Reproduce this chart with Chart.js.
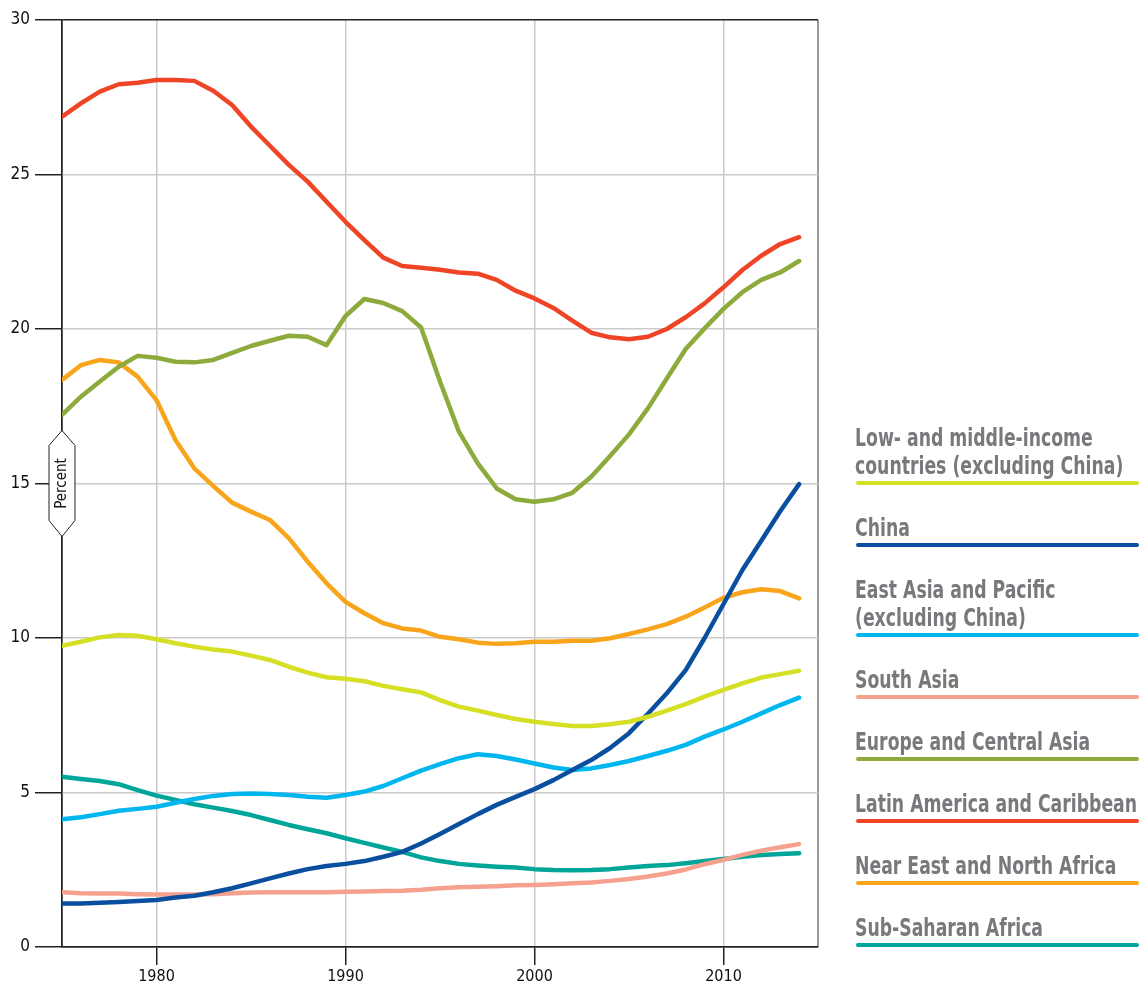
<!DOCTYPE html>
<html>
<head>
<meta charset="utf-8">
<script src="https://cdn.jsdelivr.net/npm/chart.js@4.4.1/dist/chart.umd.min.js"></script>
<style>
  html, body { margin: 0; padding: 0; background: #fff; }
  #wrap { position: relative; width: 1143px; height: 990px; }
  .leg-text {
    position: absolute; left: 855px;
    font-family: 'DejaVu Sans Condensed', 'DejaVu Sans', sans-serif;
    font-weight: bold; font-size: 24px; line-height: 27.5px; color: #77797c;
    white-space: pre; transform: scaleX(0.8); transform-origin: left bottom;
  }
  .leg-bar { position: absolute; left: 856px; width: 283px; height: 4px; border-radius: 2px; }
</style>
</head>
<body>
<div id="wrap">
  <canvas id="chart"></canvas>
</div>
<script>
const years = [1975, 1976, 1977, 1978, 1979, 1980, 1981, 1982, 1983, 1984,
  1985, 1986, 1987, 1988, 1989, 1990, 1991, 1992, 1993, 1994,
  1995, 1996, 1997, 1998, 1999, 2000, 2001, 2002, 2003, 2004,
  2005, 2006, 2007, 2008, 2009, 2010, 2011, 2012, 2013, 2014]

const lowMiddle = [9.75, 9.88, 10.02, 10.10, 10.07, 9.96, 9.83, 9.72, 9.63, 9.56,
  9.43, 9.29, 9.07, 8.88, 8.73, 8.68, 8.60, 8.45, 8.34, 8.24,
  7.99, 7.78, 7.65, 7.51, 7.38, 7.29, 7.22, 7.15, 7.15, 7.21,
  7.29, 7.45, 7.65, 7.86, 8.10, 8.32, 8.53, 8.72, 8.83, 8.94]
const china = [1.41, 1.41, 1.43, 1.46, 1.49, 1.52, 1.60, 1.66, 1.77, 1.90,
  2.06, 2.22, 2.38, 2.52, 2.62, 2.69, 2.78, 2.92, 3.08, 3.35,
  3.66, 3.98, 4.30, 4.60, 4.86, 5.11, 5.40, 5.73, 6.05, 6.44,
  6.92, 7.55, 8.21, 8.96, 10.0, 11.1, 12.2, 13.15, 14.1, 14.98]
const eastAsia = [4.13, 4.20, 4.30, 4.41, 4.47, 4.54, 4.67, 4.79, 4.89, 4.95,
  4.97, 4.95, 4.92, 4.86, 4.83, 4.92, 5.03, 5.21, 5.46, 5.71,
  5.92, 6.11, 6.24, 6.18, 6.07, 5.94, 5.81, 5.73, 5.78, 5.89,
  6.02, 6.18, 6.35, 6.54, 6.81, 7.04, 7.29, 7.56, 7.83, 8.07]
const southAsia = [1.77, 1.74, 1.73, 1.73, 1.71, 1.70, 1.70, 1.70, 1.71, 1.74,
  1.76, 1.77, 1.77, 1.77, 1.77, 1.79, 1.80, 1.81, 1.82, 1.85,
  1.90, 1.93, 1.95, 1.97, 2.00, 2.01, 2.03, 2.06, 2.09, 2.14,
  2.20, 2.28, 2.38, 2.51, 2.68, 2.82, 2.98, 3.12, 3.23, 3.33]
const europe = [17.22, 17.81, 18.30, 18.78, 19.13, 19.07, 18.94, 18.92, 19.00, 19.23,
  19.45, 19.62, 19.78, 19.75, 19.48, 20.42, 20.97, 20.84, 20.58, 20.05,
  18.30, 16.68, 15.65, 14.84, 14.49, 14.41, 14.49, 14.70, 15.22, 15.89,
  16.59, 17.43, 18.40, 19.35, 20.02, 20.65, 21.19, 21.59, 21.83, 22.20]
const latin = [26.87, 27.30, 27.68, 27.92, 27.97, 28.06, 28.06, 28.03, 27.71, 27.25,
  26.55, 25.93, 25.31, 24.77, 24.12, 23.47, 22.88, 22.31, 22.04, 21.98,
  21.92, 21.83, 21.79, 21.59, 21.24, 20.99, 20.68, 20.27, 19.88, 19.73,
  19.67, 19.75, 20.00, 20.38, 20.83, 21.35, 21.91, 22.37, 22.75, 22.97]
const nearEast = [18.35, 18.83, 19.00, 18.92, 18.46, 17.70, 16.41, 15.49, 14.92, 14.38,
  14.09, 13.82, 13.23, 12.47, 11.77, 11.17, 10.80, 10.48, 10.31, 10.24,
  10.04, 9.96, 9.85, 9.81, 9.83, 9.88, 9.88, 9.91, 9.91, 9.99,
  10.13, 10.28, 10.45, 10.69, 10.99, 11.30, 11.48, 11.58, 11.52, 11.28]
const subSaharan = [5.51, 5.44, 5.37, 5.27, 5.08, 4.90, 4.76, 4.62, 4.51, 4.40,
  4.27, 4.11, 3.95, 3.81, 3.68, 3.52, 3.37, 3.22, 3.08, 2.90,
  2.78, 2.69, 2.64, 2.60, 2.57, 2.52, 2.49, 2.48, 2.49, 2.52,
  2.57, 2.62, 2.65, 2.71, 2.78, 2.85, 2.92, 2.98, 3.01, 3.03]

const xTicks = [1975, 1980, 1990, 2000, 2010, 2015]
const xLabelled = [1980, 1990, 2000, 2010]
const yTicks = [0, 5, 10, 15, 20, 25, 30]

const series = [
  { label: 'Low- and middle-income\ncountries (excluding China)', data: lowMiddle, color: '#d5df23' },
  { label: 'China', data: china, color: '#0a4f9f' },
  { label: 'East Asia and Pacific\n(excluding China)', data: eastAsia, color: '#00b6ee' },
  { label: 'South Asia', data: southAsia, color: '#f6a08e' },
  { label: 'Europe and Central Asia', data: europe, color: '#8dab3c' },
  { label: 'Latin America and Caribbean', data: latin, color: '#ef4426' },
  { label: 'Near East and North Africa', data: nearEast, color: '#f8a51b' },
  { label: 'Sub-Saharan Africa', data: subSaharan, color: '#00a599' }
]

const fontFam = "'DejaVu Sans Condensed', 'DejaVu Sans', sans-serif"

// "Percent" tag sitting on the y axis
const percentTag = {
  id: 'percentTag',
  afterDraw(chart) {
    const { ctx, chartArea } = chart
    const cx = chartArea.left
    const cy = chart.scales.y.getPixelForValue(15)
    ctx.save()
    ctx.beginPath()
    ctx.moveTo(cx, cy - 53)
    ctx.lineTo(cx - 13, cy - 38)
    ctx.lineTo(cx - 13, cy + 37)
    ctx.lineTo(cx, cy + 53)
    ctx.lineTo(cx + 13, cy + 37)
    ctx.lineTo(cx + 13, cy - 38)
    ctx.closePath()
    ctx.fillStyle = '#fff'
    ctx.fill()
    ctx.strokeStyle = '#222'
    ctx.lineWidth = 1
    ctx.stroke()
    ctx.translate(cx, cy)
    ctx.rotate(-Math.PI / 2)
    ctx.fillStyle = '#111'
    ctx.font = '15px ' + fontFam
    ctx.textAlign = 'center'
    ctx.textBaseline = 'middle'
    ctx.fillText('Percent', 0, 0)
    ctx.restore()
  }
}

new Chart(document.getElementById('chart'), {
  type: 'line',
  data: {
    datasets: series.map(s => ({
      label: s.label,
      data: years.map((yr, i) => ({ x: yr, y: s.data[i] })),
      borderColor: s.color,
      borderWidth: 4.5,
      pointRadius: 0,
      tension: 0,
      borderJoinStyle: 'round',
      borderCapStyle: 'round',
      fill: false
    }))
  },
  options: {
    responsive: true,
    maintainAspectRatio: false,
    animation: false,
    layout: { padding: { top: 20, right: 325, bottom: 0, left: 0 } },
    plugins: { legend: { display: false }, tooltip: { enabled: false } },
    scales: {
      x: {
        type: 'linear',
        min: 1975,
        max: 2015,
        afterBuildTicks: axis => { axis.ticks = xTicks.map(v => ({ value: v })) },
        afterFit: axis => { axis.height = 43 },
        border: { color: '#222', width: 1.5 },
        grid: {
          color: ctx => ctx.tick && ctx.tick.value === 1975 ? '#222' : ctx.tick && ctx.tick.value === 2015 ? '#999' : '#cbcbcb',
          lineWidth: ctx => ctx.tick && ctx.tick.value === 2015 ? 2 : 1.5,
          tickLength: 18,
          tickColor: ctx => xLabelled.includes(ctx.tick && ctx.tick.value) ? '#222' : 'rgba(0,0,0,0)',
          tickWidth: 1.5
        },
        ticks: {
          font: { family: fontFam, size: 16 },
          color: '#111',
          padding: 2,
          maxRotation: 0,
          callback: v => xLabelled.includes(v) ? String(v) : ''
        }
      },
      y: {
        min: 0,
        max: 30,
        afterBuildTicks: axis => { axis.ticks = yTicks.map(v => ({ value: v })) },
        afterFit: axis => { axis.width = 62 },
        border: { color: '#222', width: 1.5 },
        grid: {
          color: ctx => ctx.tick && (ctx.tick.value === 0 || ctx.tick.value === 30) ? '#222' : '#cbcbcb',
          lineWidth: 1.5,
          tickLength: 27,
          tickColor: '#222',
          tickWidth: 1.5
        },
        ticks: { font: { family: fontFam, size: 17 }, color: '#111', padding: 5 }
      }
    }
  },
  plugins: [percentTag]
})

// Legend on the right: text above a coloured bar
const wrap = document.getElementById('wrap')
let barY = 0
series.forEach((s, i) => {
  const extra = s.label.split('\n').length - 1
  barY = i === 0 ? 483 : barY + 62 + 28 * extra
  const txt = document.createElement('div')
  txt.className = 'leg-text'
  txt.style.bottom = (990 - (barY - 3)) + 'px'
  txt.textContent = s.label
  wrap.appendChild(txt)
  const bar = document.createElement('div')
  bar.className = 'leg-bar'
  bar.style.top = (barY - 2) + 'px'
  bar.style.background = s.color
  wrap.appendChild(bar)
})
</script>
</body>
</html>
